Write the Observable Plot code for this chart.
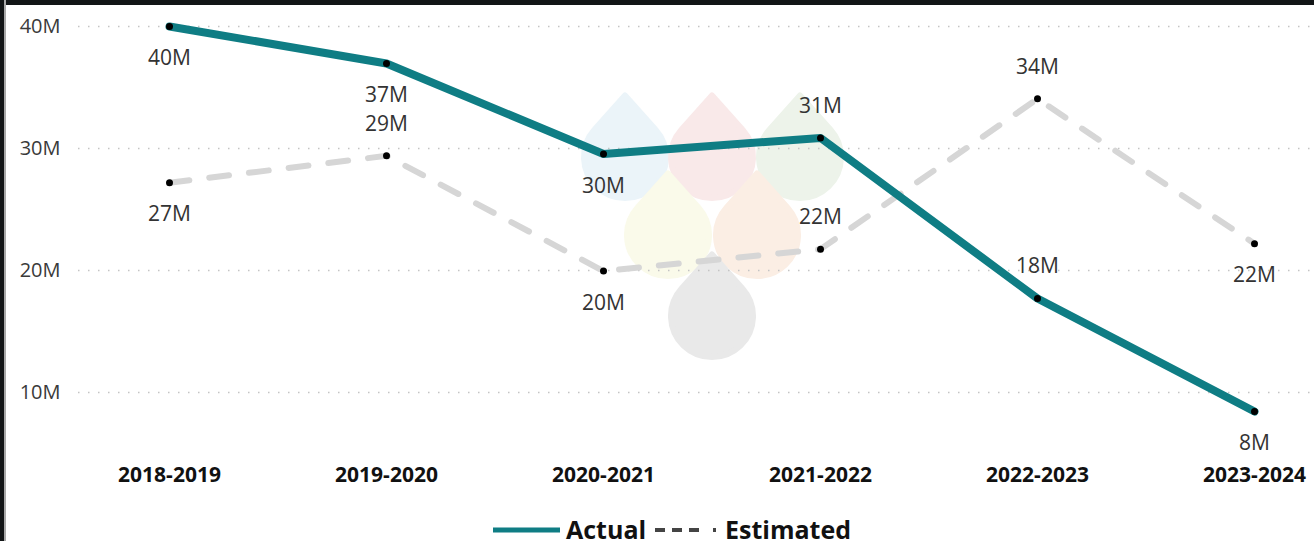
<!DOCTYPE html>
<html>
<head>
<meta charset="utf-8">
<script src="https://cdn.jsdelivr.net/npm/d3@7"></script>
<script src="https://cdn.jsdelivr.net/npm/@observablehq/plot@0.6"></script>
<style>
  html, body { margin: 0; padding: 0; background: #fff; }
  #wrap { position: relative; width: 1314px; height: 541px; overflow: hidden; background: #fff; font-family: "Open Sans", "Noto Sans", sans-serif; }
  #topbar { position: absolute; left: 0; top: 0; width: 1314px; height: 5px; background: #121516; z-index: 3; }
  #leftbar { position: absolute; left: 0; top: 0; width: 4px; height: 541px; background: #121516; border-right: 2px solid #a8a8a8; z-index: 3; }
  #deco { position: absolute; left: 0; top: 0; z-index: 0; }
  #chart { position: absolute; left: 6px; top: 5px; z-index: 1; }
  #legend { position: absolute; left: 0; top: 0; z-index: 2; pointer-events: none; }
</style>
</head>
<body>
<div id="wrap">
  <svg id="deco" width="1314" height="541"></svg>
  <div id="chart"></div>
  <svg id="legend" width="1314" height="541"></svg>
  <div id="topbar"></div>
  <div id="leftbar"></div>
</div>
<script>
// ---- data ----
const seasons = ["2018-2019", "2019-2020", "2020-2021", "2021-2022", "2022-2023", "2023-2024"];
const actual = [40.0e6, 36.97e6, 29.55e6, 30.87e6, 17.7e6, 8.44e6];
const estimated = [27.2e6, 29.4e6, 19.95e6, 21.75e6, 34.07e6, 22.2e6];
const seriesNames = ["Actual", "Estimated"];
const yTicks = [10e6, 20e6, 30e6, 40e6];

// ---- layout config (label side per point) ----
const actualLabelAbove = [false, false, false, true, true, false];
const estimatedLabelAbove = [false, true, false, true, true, false];

const teal = "#0f7d84";
const grayDash = "#d6d6d6";
const fmt = v => Math.round(v / 1e6) + "M";

const rows = [];
seasons.forEach((s, i) => {
  rows.push({season: s, value: actual[i], series: seriesNames[0], above: actualLabelAbove[i]});
});
seasons.forEach((s, i) => {
  rows.push({season: s, value: estimated[i], series: seriesNames[1], above: estimatedLabelAbove[i]});
});
const actualRows = rows.filter(d => d.series === seriesNames[0]);
const estRows = rows.filter(d => d.series === seriesNames[1]);

const chart = Plot.plot({
  width: 1308,
  height: 495,
  marginLeft: 72,
  marginRight: 0,
  marginTop: 21,
  marginBottom: 47,
  style: {background: "transparent", fontFamily: "'Open Sans', 'Noto Sans', sans-serif", overflow: "visible"},
  x: {type: "point", domain: seasons, range: [161, 1249], padding: 0, label: null},
  y: {domain: [5e6, 40e6], label: null},
  marks: [
    Plot.ruleY(yTicks, {stroke: "#c4c4c4", strokeWidth: 1.6, strokeDasharray: "1.5,8.5"}),
    Plot.axisY({ticks: yTicks, tickSize: 0, tickPadding: 18, tickFormat: fmt, fontSize: 20, fill: "#3a3a3a", label: null}),
    Plot.axisX({tickSize: 0, tickPadding: 14, fontSize: 21, fontWeight: "bold", fill: "#111", label: null}),
    Plot.line(estRows, {x: "season", y: "value", stroke: grayDash, strokeWidth: 6, strokeDasharray: "20,20"}),
    Plot.line(actualRows, {x: "season", y: "value", stroke: teal, strokeWidth: 8, strokeLinejoin: "round", strokeLinecap: "round"}),
    Plot.dot(rows, {x: "season", y: "value", r: 3.5, fill: "#000", stroke: "none"}),
    Plot.text(rows.filter(d => d.above), {x: "season", y: "value", text: d => fmt(d.value), dy: -32, fontSize: 21, fill: "#333"}),
    Plot.text(rows.filter(d => !d.above), {x: "season", y: "value", text: d => fmt(d.value), dy: 32, fontSize: 21, fill: "#333"})
  ]
});
document.getElementById("chart").appendChild(chart);

// ---- decorative watermark (drops) ----
const deco = d3.select("#deco");
const drops = [
  {cx: 625, cy: 157, c: "#ebf4f9"},
  {cx: 712, cy: 157, c: "#f9e9e9"},
  {cx: 800, cy: 157, c: "#edf3ea"},
  {cx: 668, cy: 235, c: "#fafaea"},
  {cx: 757, cy: 235, c: "#fbeee4"},
  {cx: 712, cy: 316, c: "#e9e9e9"}
];
const r = 41;
const phi = Math.acos(1 / 1.5);
drops.forEach(d => {
  const tipY = d.cy - 1.5 * r;
  const tx = r * Math.sin(phi), ty = r * Math.cos(phi);
  const p = `M${d.cx},${tipY} L${d.cx + tx},${d.cy - ty} A${r},${r} 0 1 1 ${d.cx - tx},${d.cy - ty} Z`;
  deco.append("path").attr("d", p).attr("fill", d.c).attr("stroke", d.c).attr("stroke-width", 6).attr("stroke-linejoin", "round");
});

// ---- legend ----
const lg = d3.select("#legend");
lg.append("line").attr("x1", 493).attr("x2", 560).attr("y1", 530).attr("y2", 530)
  .attr("stroke", teal).attr("stroke-width", 5);
lg.append("text").attr("x", 566).attr("y", 539).text(seriesNames[0])
  .attr("font-family", "'Open Sans', 'Noto Sans', sans-serif").attr("font-weight", "bold").attr("font-size", 25).attr("fill", "#111");
lg.append("line").attr("x1", 655).attr("x2", 719).attr("y1", 530).attr("y2", 530)
  .attr("stroke", "#444").attr("stroke-width", 4).attr("stroke-dasharray", "10,7,10,7,10,14,3");
lg.append("text").attr("x", 725).attr("y", 539).text(seriesNames[1])
  .attr("font-family", "'Open Sans', 'Noto Sans', sans-serif").attr("font-weight", "bold").attr("font-size", 25).attr("fill", "#111");
</script>
</body>
</html>
